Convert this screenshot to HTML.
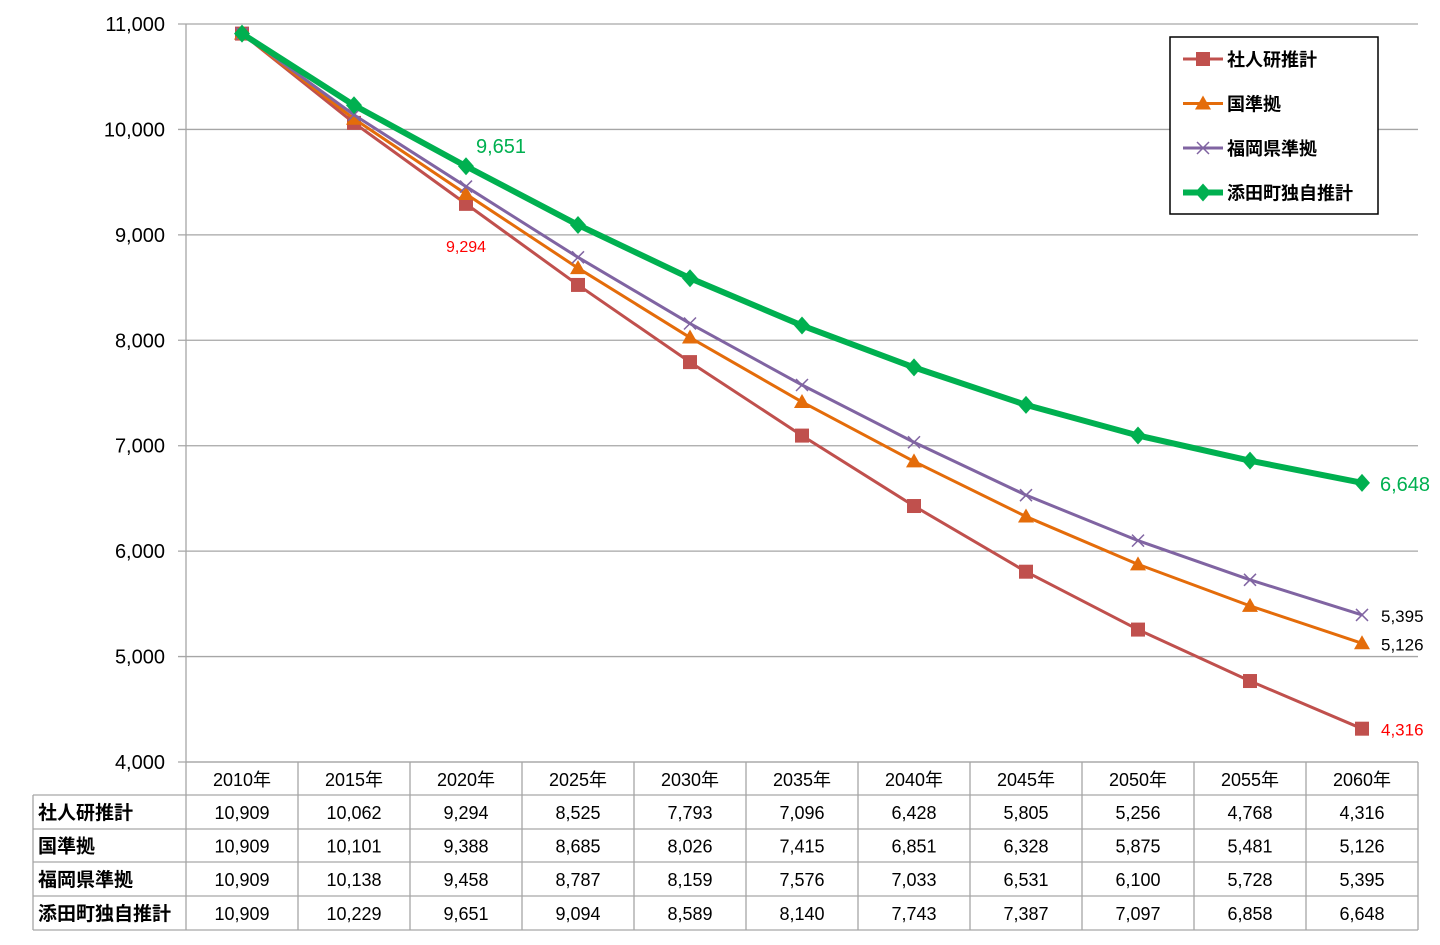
<!DOCTYPE html>
<html><head><meta charset="utf-8"><style>
body{margin:0;background:#fff;}
svg text{font-family:"Liberation Sans","Noto Sans CJK JP",sans-serif;}
</style></head><body>
<svg id="c" width="1440" height="940" xmlns="http://www.w3.org/2000/svg"></svg>
<script>
const categories=["2010年","2015年","2020年","2025年","2030年","2035年","2040年","2045年","2050年","2055年","2060年"];
const seriesNames=["社人研推計","国準拠","福岡県準拠","添田町独自推計"];
const shajinken=[10909,10062,9294,8525,7793,7096,6428,5805,5256,4768,4316];
const kuni=[10909,10101,9388,8685,8026,7415,6851,6328,5875,5481,5126];
const fukuoka=[10909,10138,9458,8787,8159,7576,7033,6531,6100,5728,5395];
const soeda=[10909,10229,9651,9094,8589,8140,7743,7387,7097,6858,6648];
const yTicks=[4000,5000,6000,7000,8000,9000,10000,11000];
const NS="http://www.w3.org/2000/svg";
const svg=document.getElementById('c');
const L=186,R=1418,T=24,B=762,cw=(R-L)/categories.length;
const x=i=>L+cw*(i+0.5);
const y=v=>B-(v-4000)/7000*(B-T);
function mk(tag,attrs,parent){const e=document.createElementNS(NS,tag);for(const k in attrs)e.setAttribute(k,attrs[k]);(parent||svg).appendChild(e);return e;}
function txt(s,attrs){const e=mk('text',attrs);e.textContent=s;return e;}
const fmt=v=>v.toLocaleString('en-US');
// gridlines & y labels
yTicks.forEach(v=>{
 const g=mk('line',{x1:L-8,x2:R,y1:y(v),y2:y(v),stroke:'#a6a6a6','stroke-width':1.3});
 
 
 const t=txt(fmt(v),{x:165,y:y(v)+7,'text-anchor':'end','font-size':20,fill:'#000'});
 
 
});
const ax=mk('line',{x1:L,x2:L,y1:T,y2:B,stroke:'#a6a6a6','stroke-width':1.3});


// table
const rowsY=[762,795,829,862,896,930];
const tg=mk('g',{});


rowsY.forEach((ry,i)=>{mk('line',{x1:i==0?L:33,x2:R,y1:ry,y2:ry,stroke:'#a6a6a6','stroke-width':1.3},tg);});
mk('line',{x1:33,x2:33,y1:795,y2:930,stroke:'#a6a6a6','stroke-width':1.3},tg);
for(let i=0;i<=categories.length;i++)mk('line',{x1:L+cw*i,x2:L+cw*i,y1:762,y2:930,stroke:'#a6a6a6','stroke-width':1.3},tg);
categories.forEach((c,i)=>{const t=txt(c,{x:x(i),y:786,'text-anchor':'middle','font-size':18});
 
 });
const allSeries=[shajinken,kuni,fukuoka,soeda];
allSeries.forEach((s,r)=>{
 const cy=(rowsY[r+1]+rowsY[r+2])/2+7;
 const h=txt(seriesNames[r],{x:38,y:cy,'font-size':19,'font-weight':'bold'});
 
 
 s.forEach((v,i)=>{const t=txt(fmt(v),{x:x(i),y:cy,'text-anchor':'middle','font-size':18});
  
  });
});
// series
const colors=['#c0504d','#e46c0a','#8064a2','#00b050'];
const widths=[3,3,3,6];
function marker(kind,cx,cy,col,g){
 if(kind==0)mk('rect',{x:cx-7,y:cy-7,width:14,height:14,fill:col},g);
 else if(kind==1)mk('polygon',{points:`${cx},${cy-8} ${cx+8},${cy+6} ${cx-8},${cy+6}`,fill:col},g);
 else if(kind==2){mk('line',{x1:cx-6,y1:cy-6,x2:cx+6,y2:cy+6,stroke:col,'stroke-width':1.5},g);mk('line',{x1:cx-6,y1:cy+6,x2:cx+6,y2:cy-6,stroke:col,'stroke-width':1.5},g);}
 else mk('polygon',{points:`${cx},${cy-9} ${cx+8},${cy} ${cx},${cy+9} ${cx-8},${cy}`,fill:col},g);
}
allSeries.forEach((s,r)=>{
 const g=mk('g',{});
 
 
 mk('polyline',{points:s.map((v,i)=>x(i)+','+y(v)).join(' '),fill:'none',stroke:colors[r],'stroke-width':widths[r],'stroke-linejoin':'round'},g);
 s.forEach((v,i)=>marker(r,x(i),y(v),colors[r],g));
});
// annotations
const n=categories.length-1;
function ann(s,a,b,c,d){const t=txt(s,a);}
ann(fmt(soeda[2]),{x:x(2)+10,y:y(soeda[2])-13,'font-size':20,fill:'#00b050'},'label-soeda-2020');
ann(fmt(shajinken[2]),{x:x(2),y:y(shajinken[2])+48,'font-size':16,fill:'#ff0000','text-anchor':'middle'},'label-shajinken-2020');
ann(fmt(soeda[n]),{x:1380,y:y(soeda[n])+8,'font-size':20,fill:'#00b050'},'label-soeda-2060');
ann(fmt(fukuoka[n]),{x:1381,y:y(fukuoka[n])+7,'font-size':17,fill:'#000'},'label-fukuoka-2060');
ann(fmt(kuni[n]),{x:1381,y:y(kuni[n])+7,'font-size':17,fill:'#000'},'label-kuni-2060');
ann(fmt(shajinken[n]),{x:1381,y:y(shajinken[n])+7,'font-size':17,fill:'#ff0000'},'label-shajinken-2060');
// legend
const lg=mk('g',{});


mk('rect',{x:1170,y:37,width:208,height:177,fill:'#fff',stroke:'#000','stroke-width':1.5},lg);
seriesNames.forEach((nm,r)=>{
 const ly=59+r*44.5;
 const e=mk('g',{},lg);
 
 
 mk('line',{x1:1183,x2:1223,y1:ly,y2:ly,stroke:colors[r],'stroke-width':widths[r]},e);
 marker(r,1203,ly,colors[r],e);
 const t=mk('text',{x:1227,y:ly+7,'font-size':18,'font-weight':'bold'},e);t.textContent=nm;
});
</script>
</body></html>
